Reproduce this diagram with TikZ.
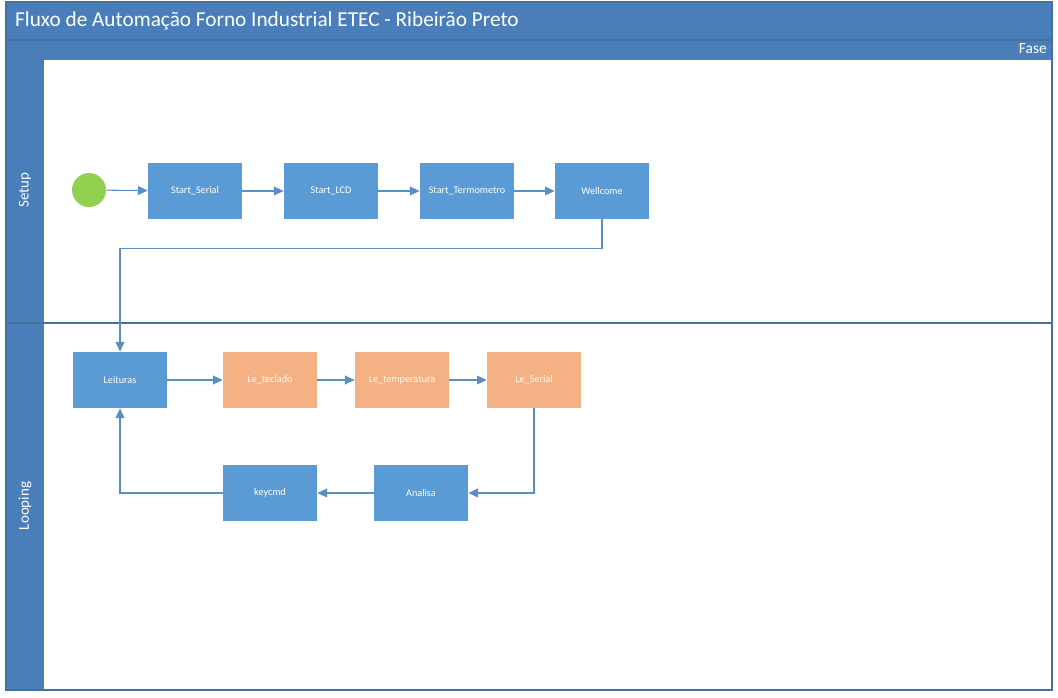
\documentclass[tikz,border=0pt]{standalone}
\usepackage{fontspec}
\setmainfont{Carlito}
\usetikzlibrary{arrows.meta}
\definecolor{headblue}{HTML}{4A7EBB}
\definecolor{edgeblue}{HTML}{41719C}
\definecolor{procblue}{HTML}{5B9BD5}
\definecolor{readorange}{HTML}{F4B183}
\definecolor{startgreen}{HTML}{92D050}
\definecolor{flowblue}{HTML}{5B8EC5}
\begin{document}
\begin{tikzpicture}[x=0.02cm,y=-0.02cm,
  proc/.style={fill=procblue,text=white,minimum width=1.88cm,minimum height=1.12cm,inner sep=0pt,font=\fontsize{5.8}{7}\selectfont},
  readbox/.style={proc,fill=readorange},
  flow/.style={draw=flowblue,line width=0.6pt,-{Triangle[length=5.5pt,width=5pt]}},
  lanelabel/.style={text=white,rotate=90,font=\fontsize{8.5}{10}\selectfont}]
  \useasboundingbox (0,0) rectangle (1058,697);
  % frame and lanes
  \fill[headblue] (6,2) rectangle (1052,60);
  \fill[headblue] (6,60) rectangle (44,690);
  \draw[edgeblue,line width=0.6pt] (6,40) -- (1052,40);
  \draw[edgeblue,line width=0.8pt] (6,323) -- (1052,323);
  \draw[edgeblue,line width=0.8pt] (6,2) rectangle (1052,690);
  \node[anchor=west,text=white,font=\fontsize{12.1}{14}\selectfont] (title) at (9,21) {Fluxo de Automação Forno Industrial ETEC - Ribeirão Preto};
  \node[anchor=east,text=white,font=\fontsize{8.8}{10}\selectfont] (fase) at (1053,49) {Fase};
  \node[lanelabel] (setup) at (25,190) {Setup};
  \node[lanelabel] (looping) at (25,506) {Looping};
  % setup lane
  \node[circle,fill=startgreen,minimum size=0.68cm,inner sep=0pt] (start) at (89,190) {};
  \node[proc] (sser) at (195,191) {Start\_Serial};
  \node[proc] (slcd) at (331,191) {Start\_LCD};
  \node[proc] (sterm) at (467,191) {Start\_Termometro};
  \node[proc] (well) at (602,191) {Wellcome};
  % looping lane
  \node[proc] (leit) at (120,380) {Leituras};
  \node[readbox] (lteclado) at (270,380) {Le\_teclado};
  \node[readbox] (ltemp) at (402,380) {Le\_temperatura};
  \node[readbox] (lserial) at (534,380) {Le\_Serial};
  \node[proc] (anal) at (421,493) {Analisa};
  \node[proc] (kcmd) at (270,493) {keycmd};
  \draw[flow] (start) -- (sser);
  \draw[flow] (sser) -- (slcd);
  \draw[flow] (slcd) -- (sterm);
  \draw[flow] (sterm) -- (well);
  \draw[flow] (well.south) -- ++(0,29) -| (leit.north);
  \draw[flow] (leit) -- (lteclado);
  \draw[flow] (lteclado) -- (ltemp);
  \draw[flow] (ltemp) -- (lserial);
  \draw[flow] (lserial.south) |- (anal.east);
  \draw[flow] (anal) -- (kcmd);
  \draw[flow] (kcmd.west) -| (leit.south);
\end{tikzpicture}
\end{document}
